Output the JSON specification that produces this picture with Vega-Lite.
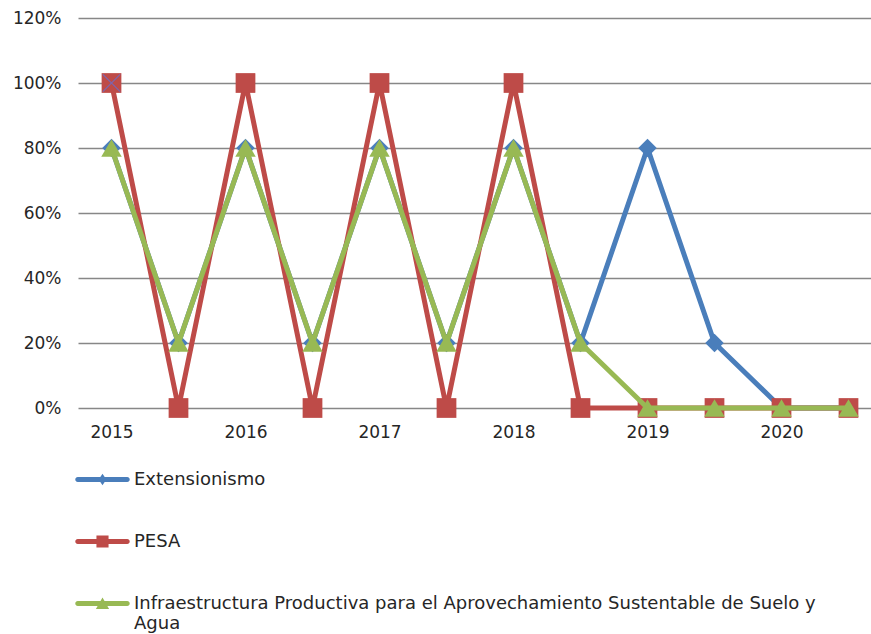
{
  "$schema": "https://vega.github.io/schema/vega-lite/v6.json",
  "width": 804,
  "height": 390,
  "autosize": {"type": "none"},
  "padding": {"left": 78, "top": 18, "right": 0, "bottom": 226},
  "background": "white",
  "config": {
    "view": {"stroke": null},
    "font": "DejaVu Sans",
    "axis": {"labelColor": "#262626", "labelFontSize": 17, "labelFont": "DejaVu Sans"},
    "legend": {"labelFont": "DejaVu Sans"}
  },
  "datasets": {
    "main": [
      {"x": "2015", "s": "Extensionismo", "v": 0.8},
      {"x": "2015b", "s": "Extensionismo", "v": 0.2},
      {"x": "2016", "s": "Extensionismo", "v": 0.8},
      {"x": "2016b", "s": "Extensionismo", "v": 0.2},
      {"x": "2017", "s": "Extensionismo", "v": 0.8},
      {"x": "2017b", "s": "Extensionismo", "v": 0.2},
      {"x": "2018", "s": "Extensionismo", "v": 0.8},
      {"x": "2018b", "s": "Extensionismo", "v": 0.2},
      {"x": "2019", "s": "Extensionismo", "v": 0.8},
      {"x": "2019b", "s": "Extensionismo", "v": 0.2},
      {"x": "2020", "s": "Extensionismo", "v": 0},
      {"x": "2020b", "s": "Extensionismo", "v": 0},
      {"x": "2015", "s": "PESA", "v": 1},
      {"x": "2015b", "s": "PESA", "v": 0},
      {"x": "2016", "s": "PESA", "v": 1},
      {"x": "2016b", "s": "PESA", "v": 0},
      {"x": "2017", "s": "PESA", "v": 1},
      {"x": "2017b", "s": "PESA", "v": 0},
      {"x": "2018", "s": "PESA", "v": 1},
      {"x": "2018b", "s": "PESA", "v": 0},
      {"x": "2019", "s": "PESA", "v": 0},
      {"x": "2019b", "s": "PESA", "v": 0},
      {"x": "2020", "s": "PESA", "v": 0},
      {"x": "2020b", "s": "PESA", "v": 0},
      {"x": "2015", "s": "Infraestructura Productiva para el Aprovechamiento Sustentable de Suelo y Agua", "v": 0.8},
      {"x": "2015b", "s": "Infraestructura Productiva para el Aprovechamiento Sustentable de Suelo y Agua", "v": 0.2},
      {"x": "2016", "s": "Infraestructura Productiva para el Aprovechamiento Sustentable de Suelo y Agua", "v": 0.8},
      {"x": "2016b", "s": "Infraestructura Productiva para el Aprovechamiento Sustentable de Suelo y Agua", "v": 0.2},
      {"x": "2017", "s": "Infraestructura Productiva para el Aprovechamiento Sustentable de Suelo y Agua", "v": 0.8},
      {"x": "2017b", "s": "Infraestructura Productiva para el Aprovechamiento Sustentable de Suelo y Agua", "v": 0.2},
      {"x": "2018", "s": "Infraestructura Productiva para el Aprovechamiento Sustentable de Suelo y Agua", "v": 0.8},
      {"x": "2018b", "s": "Infraestructura Productiva para el Aprovechamiento Sustentable de Suelo y Agua", "v": 0.2},
      {"x": "2019", "s": "Infraestructura Productiva para el Aprovechamiento Sustentable de Suelo y Agua", "v": 0},
      {"x": "2019b", "s": "Infraestructura Productiva para el Aprovechamiento Sustentable de Suelo y Agua", "v": 0},
      {"x": "2020", "s": "Infraestructura Productiva para el Aprovechamiento Sustentable de Suelo y Agua", "v": 0},
      {"x": "2020b", "s": "Infraestructura Productiva para el Aprovechamiento Sustentable de Suelo y Agua", "v": 0}
    ],
    "extra": [
      {"x": "2015", "s": "marker", "v": 1}
    ]
  },
  "data": {"name": "main"},
  "encoding": {
    "x": {
      "field": "x",
      "type": "nominal",
      "scale": {"type": "point", "padding": 0.5, "domain": ["2015","2015b","2016","2016b","2017","2017b","2018","2018b","2019","2019b","2020","2020b"]},
      "axis": {"title": null, "labelExpr": "length(datum.label) == 4 ? datum.label : ''", "labelAngle": 0, "labelPadding": 16, "domain": false, "ticks": false, "grid": false}
    },
    "y": {
      "field": "v",
      "type": "quantitative",
      "scale": {"domain": [0, 1.2], "nice": false, "zero": true},
      "axis": {"title": null, "values": [0, 0.2, 0.4, 0.6, 0.8, 1, 1.2], "format": ".0%", "labelPadding": 17, "domain": false, "ticks": false, "gridColor": "#878787", "gridWidth": 1.6, "gridOpacity": 1}
    },
    "color": {
      "field": "s",
      "type": "nominal",
      "scale": {
        "domain": ["Extensionismo", "PESA", "Infraestructura Productiva para el Aprovechamiento Sustentable de Suelo y Agua"],
        "range": ["#4a7ebb", "#be4b48", "#98b954"]
      },
      "legend": {
        "title": null,
        "orient": "none",
        "legendX": -3,
        "legendY": 434,
        "direction": "vertical",
        "padding": 0,
        "rowPadding": 25,
        "symbolSize": 3025,
        "labelFontSize": 18,
        "labelColor": "#262626",
        "labelOffset": 4,
        "labelLimit": 900,
        "labelBaseline": "top",
        "labelExpr": "datum.label == 'Infraestructura Productiva para el Aprovechamiento Sustentable de Suelo y Agua' ? ['Infraestructura Productiva para el Aprovechamiento Sustentable de Suelo y', 'Agua'] : datum.label",
        "encode": {
          "labels": {"update": {"dy": {"value": -9}, "lineHeight": {"value": 20}}},
          "symbols": {
            "update": {
              "shape": {"signal": "datum.value === 'Extensionismo' ? 'M-0.9,-0.09L0.9,-0.09A0.09,0.09 0 0 1 0.9,0.09L-0.9,0.09A0.09,0.09 0 0 1 -0.9,-0.09ZM0,-0.21L0.14,0L0,0.21L-0.14,0Z' : datum.value === 'PESA' ? 'M-0.9,-0.09L0.9,-0.09A0.09,0.09 0 0 1 0.9,0.09L-0.9,0.09A0.09,0.09 0 0 1 -0.9,-0.09ZM-0.22,-0.22L0.22,-0.22L0.22,0.22L-0.22,0.22Z' : 'M-0.9,-0.09L0.9,-0.09A0.09,0.09 0 0 1 0.9,0.09L-0.9,0.09A0.09,0.09 0 0 1 -0.9,-0.09ZM0,-0.22L0.24,0.2L-0.24,0.2Z'"},
              "fill": {"signal": "scale('color', datum.value)"},
              "strokeWidth": {"value": 0},
              "size": {"value": 3025},
              "opacity": {"value": 1},
              "fillOpacity": {"value": 1}
            }
          }
        }
      }
    }
  },
  "layer": [
    {
      "transform": [{"filter": "datum.s == 'Extensionismo'"}],
      "mark": {"type": "line", "strokeWidth": 5, "strokeJoin": "round", "strokeCap": "round"}
    },
    {
      "transform": [{"filter": "datum.s == 'Extensionismo'"}],
      "mark": {"type": "point", "filled": true, "shape": "diamond", "size": 340, "opacity": 1}
    },
    {
      "transform": [{"filter": "datum.s == 'PESA'"}],
      "mark": {"type": "line", "strokeWidth": 5, "strokeJoin": "round", "strokeCap": "round"}
    },
    {
      "transform": [{"filter": "datum.s == 'PESA'"}],
      "mark": {"type": "point", "filled": true, "shape": "square", "size": 390, "opacity": 1}
    },
    {
      "transform": [{"filter": "datum.s != 'Extensionismo' && datum.s != 'PESA'"}],
      "mark": {"type": "line", "strokeWidth": 5, "strokeJoin": "round", "strokeCap": "round"}
    },
    {
      "transform": [{"filter": "datum.s != 'Extensionismo' && datum.s != 'PESA'"}],
      "mark": {"type": "point", "filled": true, "shape": "triangle-up", "size": 420, "opacity": 1}
    },
    {
      "data": {"name": "extra"},
      "mark": {"type": "point", "filled": false, "shape": "M-1,-1L1,1M1,-1L-1,1", "size": 300, "strokeWidth": 1.2, "opacity": 1},
      "encoding": {"color": {"value": "#7b66b0"}}
    }
  ]
}
